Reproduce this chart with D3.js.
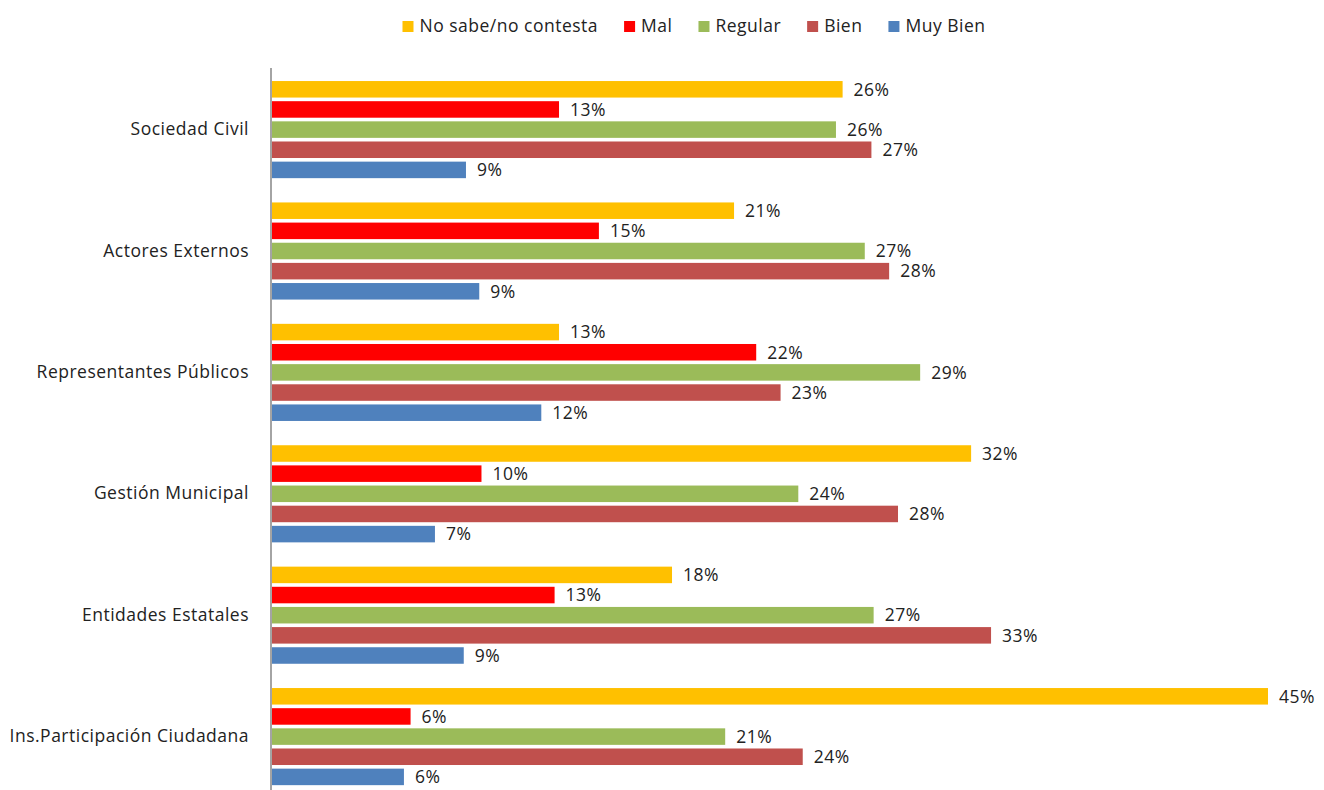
<!DOCTYPE html>
<html><head><meta charset="utf-8">
<script src="https://cdn.jsdelivr.net/npm/d3@7"></script>
<style>body{margin:0;background:#fff}svg{display:block}text{font-family:"Open Sans",Lato,sans-serif;letter-spacing:0.5px}</style>
</head><body><svg id="c" width="1324" height="790"></svg>
<script>
const categories = ["Sociedad Civil","Actores Externos","Representantes Públicos","Gestión Municipal","Entidades Estatales","Ins.Participación Ciudadana"];
const seriesNames = ["No sabe/no contesta","Mal","Regular","Bien","Muy Bien"];
const colors = ["#FFC000","#FF0000","#9BBB59","#C0504D","#4F81BD"];
const noSabe  = [25.8, 20.9, 13.0, 31.6, 18.1, 45.0];
const mal     = [13.0, 14.8, 21.9,  9.5, 12.8,  6.3];
const regular = [25.5, 26.8, 29.3, 23.8, 27.2, 20.5];
const bien    = [27.1, 27.9, 23.0, 28.3, 32.5, 24.0];
const muyBien = [ 8.8,  9.4, 12.2,  7.4,  8.7,  6.0];
const seriesValues = [noSabe, mal, regular, bien, muyBien];

const FS = 17.5;
const svg = d3.select("#c");
const x0 = 271;
const x = d3.scaleLinear().domain([0,45]).range([x0, x0 + 997]);
const y = d3.scaleBand().domain(categories).range([68.9, 797.3]).paddingInner(0.2).paddingOuter(0.1);
const yi = d3.scaleBand().domain(d3.range(seriesNames.length)).range([0, y.bandwidth()]).paddingInner(0.18).paddingOuter(0);

const g = svg.append("g");
categories.forEach((c, ci) => {
  const gg = g.append("g").attr("transform", `translate(0,${y(c)})`);
  seriesValues.forEach((vals, si) => {
    const v = vals[ci];
    gg.append("rect").attr("x", x(0)+1).attr("y", yi(si)).attr("width", x(v)-x(0)-1).attr("height", yi.bandwidth()).attr("fill", colors[si]);
    gg.append("text").attr("x", x(v)+11).attr("y", yi(si)+yi.bandwidth()/2).attr("dy","0.36em")
      .attr("font-size", FS).attr("fill", "#222").text(Math.round(v) + "%");
  });
});

// category axis
const ax = svg.append("g").attr("transform", `translate(${x0},0)`)
  .call(d3.axisLeft(y).tickSize(0).tickPadding(22));
ax.select(".domain").remove();
ax.selectAll("text").attr("font-size", FS).attr("fill", "#222").style("font-family","'Open Sans',Lato,sans-serif");
svg.append("line").attr("x1", x0).attr("x2", x0).attr("y1", 68).attr("y2", 790).attr("stroke", "#868686").attr("stroke-width", 1.5);

// legend
const lg = svg.append("g");
let cx = 0;
const GAP = 26;
seriesNames.forEach((n, i) => {
  const it = lg.append("g");
  it.append("rect").attr("x", 0).attr("y", -5).attr("width", 11).attr("height", 11).attr("fill", colors[i]);
  const t = it.append("text").attr("x", 17).attr("y", 0).attr("dy", "0.36em").attr("font-size", FS).attr("fill", "#222").text(n);
  const w = 17 + t.node().getComputedTextLength();
  it.attr("transform", `translate(${cx},26)`);
  cx += w + GAP;
});
const total = cx - GAP;
lg.attr("transform", `translate(${694 - total/2},0)`);
</script></body></html>
